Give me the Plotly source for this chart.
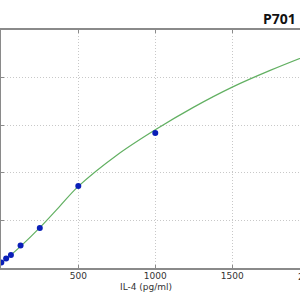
import plotly.graph_objects as go

# Standard points (IL-4 pg/ml vs OD)
std_conc = [0, 31.25, 62.5, 125, 250, 500, 1000]
std_od = [0.058, 0.10, 0.137, 0.236, 0.42, 0.861, 1.418]

# Fitted curve
fit_conc = [0, 125, 250, 375, 500, 750, 1000, 1250, 1500, 1750, 2000]
fit_od = [0.05, 0.227, 0.424, 0.64, 0.857, 1.185, 1.452, 1.69, 1.90, 2.078, 2.24]

x_ticks = [0, 500, 1000, 1500, 2000]
y_ticks = [0, 0.5, 1.0, 1.5, 2.0, 2.5]

title_text = "P701"
x_title = "IL-4 (pg/ml)"

fig = go.Figure()
fig.add_trace(go.Scatter(x=fit_conc, y=fit_od, mode="lines", line_shape="spline",
                         line=dict(color="#62b062", width=1.2), hoverinfo="skip"))
fig.add_trace(go.Scatter(x=std_conc, y=std_od, mode="markers",
                         marker=dict(color="#0a1fb8", size=6, line=dict(width=0)),
                         cliponaxis=False))

axis_common = dict(showgrid=True, gridcolor="#c8c8c8", griddash="1px,2px", gridwidth=1,
                   zeroline=False, showline=True, linecolor="#8a8a8a", linewidth=1.5,
                   ticks="inside", ticklen=3, tickcolor="#8a8a8a", automargin=False,
                   tickfont=dict(family="DejaVu Sans", size=9, color="#333333"))

fig.update_layout(
    width=300, height=300,
    margin=dict(l=1, r=0, t=30, b=32, pad=0),
    paper_bgcolor="white", plot_bgcolor="white",
    showlegend=False,
    xaxis=dict(range=[-2, 1940], tickvals=x_ticks, mirror="ticks", **axis_common),
    yaxis=dict(range=[0, 2.5], tickvals=y_ticks, **axis_common),
    annotations=[
        dict(text="<b>" + title_text + "</b>", xref="paper", yref="paper",
             x=(298 - 1) / 299, y=1 + 11 / 238, xanchor="right", yanchor="middle",
             showarrow=False, font=dict(family="Open Sans", size=14, color="#111111")),
        dict(text=x_title, xref="paper", yref="paper",
             x=(146 - 1) / 299, y=-18.5 / 238, xanchor="center", yanchor="middle",
             showarrow=False, font=dict(family="DejaVu Sans", size=9, color="#333333")),
        dict(text=str(x_ticks[-1]), xref="paper", yref="paper",
             x=(309 - 1) / 299, y=-9 / 238, xanchor="center", yanchor="middle",
             showarrow=False, font=dict(family="DejaVu Sans", size=9, color="#333333")),
    ],
)
fig.update_xaxes(ticklabelstandoff=-2)

fig.write_html("out.html")
